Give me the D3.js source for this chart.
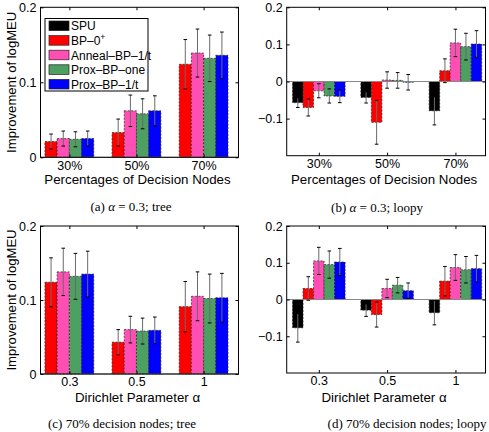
<!DOCTYPE html>
<html>
<head>
<meta charset="utf-8">
<script src="https://cdn.jsdelivr.net/npm/d3@7"></script>
<style>
  body { margin: 0; background: #fff; }
  svg { display: block; }
  text { font-family: "Liberation Sans", Arial, sans-serif; fill: #000; }
  .cap { font-family: "Liberation Serif", "DejaVu Serif", serif; }
</style>
</head>
<body>
<svg id="chart" width="489" height="432"></svg>
<script>
// series order: SPU, BP-0+, Anneal-BP-1/t, Prox-BP-one, Prox-BP-1/t
var seriesNames = ["SPU", "BP\u20130", "Anneal\u2013BP\u20131/t", "Prox\u2013BP\u2013one", "Prox\u2013BP\u20131/t"];
var seriesColors = ["#000000", "#ff0000", "#ff4fb4", "#4d9f62", "#0000ff"];

var pctCats = ["30%", "50%", "70%"];
var alphaCats = ["0.3", "0.5", "1"];

// (a) alpha = 0.3, tree  (no SPU bars)
var treePctMean = [
  [0.021, 0.033, 0.124],
  [0.025, 0.062, 0.139],
  [0.024, 0.058, 0.132],
  [0.025, 0.062, 0.136]
];
var treePctErr = [
  [0.010, 0.018, 0.033],
  [0.010, 0.021, 0.032],
  [0.010, 0.020, 0.031],
  [0.010, 0.020, 0.031]
];

// (b) alpha = 0.3, loopy
var loopyPctMean = [
  [-0.057, -0.043, -0.079],
  [-0.070, -0.110, 0.029],
  [-0.025, 0.004, 0.104],
  [-0.039, 0.003, 0.094],
  [-0.040, -0.002, 0.101]
];
var loopyPctErr = [
  [0.013, 0.015, 0.038],
  [0.023, 0.059, 0.032],
  [0.019, 0.022, 0.037],
  [0.019, 0.021, 0.036],
  [0.017, 0.021, 0.036]
];

// (c) 70% decision nodes, tree  (no SPU bars)
var treeAlphaMean = [
  [0.124, 0.043, 0.091],
  [0.138, 0.060, 0.105],
  [0.132, 0.058, 0.102],
  [0.135, 0.059, 0.103]
];
var treeAlphaErr = [
  [0.033, 0.017, 0.034],
  [0.032, 0.018, 0.033],
  [0.031, 0.0175, 0.033],
  [0.031, 0.018, 0.033]
];

// (d) 70% decision nodes, loopy
var loopyAlphaMean = [
  [-0.077, -0.029, -0.036],
  [0.030, -0.041, 0.050],
  [0.105, 0.030, 0.087],
  [0.095, 0.039, 0.081],
  [0.102, 0.024, 0.084]
];
var loopyAlphaErr = [
  [0.039, 0.017, 0.033],
  [0.032, 0.034, 0.040],
  [0.037, 0.025, 0.035],
  [0.037, 0.021, 0.036],
  [0.037, 0.021, 0.036]
];

var treeTicks = [0, 0.1, 0.2];
var loopyTicks = [-0.1, 0, 0.1, 0.2];

var svg = d3.select("#chart");

var panels = [
  { x0: 40.5, x1: 238.5, y0: 7.3, y1: 157.3, ydom: [0, 0.2], xdom: [0.57, 3.52],
    cats: pctCats, mean: treePctMean, err: treePctErr, first: 1, ticks: treeTicks,
    xlabel: "Percentages of Decision Nodes", ylabel: true, legend: true,
    capX: 131, capY: 211, cap: ["(a) ", "\u03b1", " = 0.3; tree"], xlabY: 183.5 },
  { x0: 286.7, x1: 485.5, y0: 7.3, y1: 155.7, ydom: [-0.2, 0.2], xdom: [0.53, 3.44],
    cats: pctCats, mean: loopyPctMean, err: loopyPctErr, first: 0, ticks: loopyTicks,
    xlabel: "Percentages of Decision Nodes", ylabel: false, legend: false,
    capX: 377, capY: 212, cap: ["(b) ", "\u03b1", " = 0.3; loopy"], xlabY: 183.5 },
  { x0: 40.5, x1: 238.5, y0: 226, y1: 374, ydom: [0, 0.2], xdom: [0.57, 3.52],
    cats: alphaCats, mean: treeAlphaMean, err: treeAlphaErr, first: 1, ticks: treeTicks,
    xlabel: "Dirichlet Parameter \u03b1", ylabel: true, legend: false,
    capX: 122, capY: 428, cap: ["(c) 70% decision nodes; tree"], xlabY: 401.5 },
  { x0: 286.7, x1: 485.5, y0: 226, y1: 373, ydom: [-0.2, 0.2], xdom: [0.53, 3.44],
    cats: alphaCats, mean: loopyAlphaMean, err: loopyAlphaErr, first: 0, ticks: loopyTicks,
    xlabel: "Dirichlet Parameter \u03b1", ylabel: false, legend: false,
    capX: 407, capY: 428, cap: ["(d) 70% decision nodes; loopy"], xlabY: 401.5 }
];

panels.forEach(drawPanel);

function drawPanel(p) {
  var x = d3.scaleLinear().domain(p.xdom).range([p.x0, p.x1]);
  var y = d3.scaleLinear().domain(p.ydom).range([p.y1, p.y0]);
  var g = svg.append("g");

  // matlab style grouped bars
  var n = p.mean.length;
  var groupW = Math.min(0.8, n / (n + 1.5));
  var barW = groupW / n;

  var rows = [];
  p.mean.forEach(function(vals, s) {
    vals.forEach(function(v, i) {
      rows.push({ s: s + p.first, k: s, i: i, v: v, e: p.err[s][i] });
    });
  });

  function left(d) { return (d.i + 1) - groupW / 2 + d.k * barW; }

  g.selectAll("rect.bar").data(rows).enter().append("rect")
    .attr("class", "bar")
    .attr("x", function(d) { return x(left(d)); })
    .attr("width", function(d) { return x(left(d) + barW) - x(left(d)); })
    .attr("y", function(d) { return y(Math.max(0, d.v)); })
    .attr("height", function(d) { return Math.abs(y(d.v) - y(0)); })
    .attr("fill", function(d) { return seriesColors[d.s]; })
    .attr("stroke", "#222")
    .attr("stroke-width", 0.7)
    .attr("stroke-dasharray", "2,1.5");

  // baseline
  g.append("line")
    .attr("x1", p.x0).attr("x2", p.x1)
    .attr("y1", y(0)).attr("y2", y(0))
    .attr("stroke", "#888").attr("stroke-width", 1);

  // error bars
  var eb = g.selectAll("g.err").data(rows).enter().append("g").attr("class", "err");
  function cx(d) { return x(left(d) + barW / 2); }
  eb.append("line")
    .attr("x1", cx).attr("x2", cx)
    .attr("y1", function(d) { return y(d.v - d.e); })
    .attr("y2", function(d) { return y(d.v + d.e); })
    .attr("stroke", "#6a6a6a").attr("stroke-width", 1);
  [-1, 1].forEach(function(sg) {
    eb.append("line")
      .attr("x1", function(d) { return cx(d) - 1.8; })
      .attr("x2", function(d) { return cx(d) + 1.8; })
      .attr("y1", function(d) { return y(d.v + sg * d.e); })
      .attr("y2", function(d) { return y(d.v + sg * d.e); })
      .attr("stroke", "#000").attr("stroke-width", 1);
  });

  // axes (inward ticks)
  var fmt = function(v) { return v === 0 ? "0" : d3.format(".1f")(v); };
  var ax = g.append("g").attr("transform", "translate(" + p.x0 + ",0)")
    .call(d3.axisLeft(y).tickValues(p.ticks).tickSize(-3).tickPadding(4).tickFormat(fmt));
  var ar = g.append("g").attr("transform", "translate(" + p.x1 + ",0)")
    .call(d3.axisRight(y).tickValues(p.ticks).tickSize(-3).tickFormat(""));
  var ab = g.append("g").attr("transform", "translate(0," + p.y1 + ")")
    .call(d3.axisBottom(x).tickValues([1, 2, 3]).tickSize(-3).tickPadding(3.5)
      .tickFormat(function(v) { return p.cats[v - 1]; }));
  var at = g.append("g").attr("transform", "translate(0," + p.y0 + ")")
    .call(d3.axisTop(x).tickValues([1, 2, 3]).tickSize(-3).tickFormat(""));
  [ax, ar, ab, at].forEach(function(a) {
    a.select(".domain").remove();
    a.selectAll("text").attr("font-size", 12.5).attr("font-family", "Liberation Sans, Arial, sans-serif").attr("fill", "#000");
    a.selectAll("line").attr("stroke", "#000");
  });

  g.append("rect")
    .attr("x", p.x0).attr("y", p.y0)
    .attr("width", p.x1 - p.x0).attr("height", p.y1 - p.y0)
    .attr("fill", "none").attr("stroke", "#000").attr("stroke-width", 1);

  // labels
  g.append("text")
    .attr("x", (p.x0 + p.x1) / 2 - 2).attr("y", p.xlabY)
    .attr("text-anchor", "middle").attr("font-size", 13.3)
    .text(p.xlabel);

  if (p.ylabel) {
    g.append("text")
      .attr("transform", "translate(15.5," + ((p.y0 + p.y1) / 2) + ") rotate(-90)")
      .attr("text-anchor", "middle").attr("font-size", 13.1)
      .text("Improvement of logMEU");
  }

  var cap = g.append("text").attr("class", "cap")
    .attr("x", p.capX).attr("y", p.capY)
    .attr("text-anchor", "middle").attr("font-size", 13);
  p.cap.forEach(function(t) {
    var ts = cap.append("tspan").text(t);
    if (t === "\u03b1") ts.attr("font-style", "italic");
  });

  if (p.legend) drawLegend(g);
}

function drawLegend(g) {
  var lx = 45, ly = 18.5, rowH = 14.6;
  var lg = g.append("g");
  lg.append("rect")
    .attr("x", lx).attr("y", ly).attr("width", 103).attr("height", 72.5)
    .attr("fill", "#fff").attr("stroke", "#000").attr("stroke-width", 1);
  var item = lg.selectAll("g.item").data(seriesNames).enter().append("g")
    .attr("transform", function(d, i) { return "translate(" + lx + "," + (ly + 7.3 + i * rowH) + ")"; });
  item.append("rect")
    .attr("x", 4).attr("y", -4.8).attr("width", 20).attr("height", 9.6)
    .attr("fill", function(d, i) { return seriesColors[i]; })
    .attr("stroke", "#222").attr("stroke-width", 0.7);
  var t = item.append("text")
    .attr("x", 26).attr("y", 4.5).attr("font-size", 12);
  t.append("tspan").text(function(d) { return d; });
  t.filter(function(d, i) { return i === 1; })
    .append("tspan").attr("dy", -5).attr("font-size", 8.5).text("+");
}
</script>
</body>
</html>
